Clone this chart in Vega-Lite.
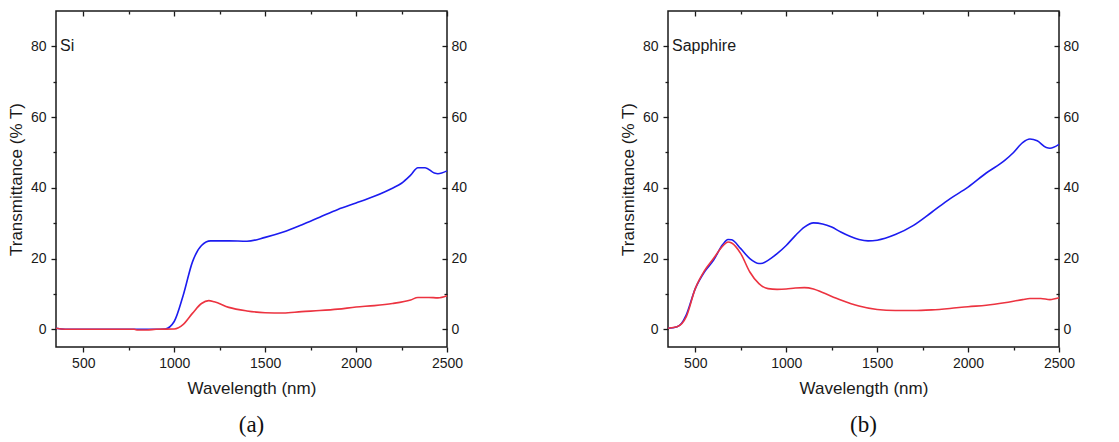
{
  "$schema": "https://vega.github.io/schema/vega-lite/v6.json",
  "background": "white",
  "padding": {"left": 6, "top": 9, "right": 5, "bottom": 5},
  "bounds": "flush",
  "spacing": 221,
  "config": {
    "view": {"stroke": "#1a1a1a", "strokeWidth": 1.5},
    "axis": {
      "domain": false, "grid": false,
      "tickColor": "#1a1a1a", "tickWidth": 1.3,
      "labelFont": "Liberation Sans", "labelFontSize": 14, "labelColor": "#1a1a1a",
      "titleFont": "Liberation Sans", "titleFontSize": 17, "titleFontWeight": "normal", "titleColor": "#1a1a1a"
    },
    "title": {"font": "Liberation Serif", "fontSize": 23, "fontWeight": "normal", "color": "#111", "orient": "bottom", "offset": 18}
  },
  "datasets": {
    "si": [
      {"s": "blue", "w": 350, "t": 0.3}, {"s": "blue", "w": 400, "t": 0}, {"s": "blue", "w": 780, "t": 0}, {"s": "blue", "w": 900, "t": 0}, {"s": "blue", "w": 950, "t": 0.1},
      {"s": "blue", "w": 1000, "t": 2.2}, {"s": "blue", "w": 1050, "t": 9.7}, {"s": "blue", "w": 1100, "t": 19}, {"s": "blue", "w": 1150, "t": 23.7},
      {"s": "blue", "w": 1200, "t": 25}, {"s": "blue", "w": 1300, "t": 25}, {"s": "blue", "w": 1400, "t": 24.9}, {"s": "blue", "w": 1500, "t": 26},
      {"s": "blue", "w": 1600, "t": 27.5}, {"s": "blue", "w": 1700, "t": 29.5}, {"s": "blue", "w": 1800, "t": 31.7}, {"s": "blue", "w": 1900, "t": 33.9},
      {"s": "blue", "w": 2000, "t": 35.7}, {"s": "blue", "w": 2100, "t": 37.6}, {"s": "blue", "w": 2200, "t": 39.9}, {"s": "blue", "w": 2250, "t": 41.3},
      {"s": "blue", "w": 2300, "t": 43.6}, {"s": "blue", "w": 2340, "t": 45.7}, {"s": "blue", "w": 2380, "t": 45.7}, {"s": "blue", "w": 2430, "t": 44.2},
      {"s": "blue", "w": 2450, "t": 44}, {"s": "blue", "w": 2500, "t": 44.8},
      {"s": "red", "w": 350, "t": 0.3}, {"s": "red", "w": 400, "t": 0}, {"s": "red", "w": 780, "t": 0}, {"s": "red", "w": 800, "t": -0.2}, {"s": "red", "w": 850, "t": -0.2},
      {"s": "red", "w": 900, "t": 0}, {"s": "red", "w": 1000, "t": 0.1}, {"s": "red", "w": 1050, "t": 1.4}, {"s": "red", "w": 1100, "t": 4.5},
      {"s": "red", "w": 1150, "t": 7.3}, {"s": "red", "w": 1190, "t": 8.1}, {"s": "red", "w": 1220, "t": 7.8}, {"s": "red", "w": 1300, "t": 6.2},
      {"s": "red", "w": 1400, "t": 5.2}, {"s": "red", "w": 1500, "t": 4.7}, {"s": "red", "w": 1600, "t": 4.6}, {"s": "red", "w": 1700, "t": 5.0},
      {"s": "red", "w": 1800, "t": 5.3}, {"s": "red", "w": 1900, "t": 5.7}, {"s": "red", "w": 2000, "t": 6.3}, {"s": "red", "w": 2100, "t": 6.7},
      {"s": "red", "w": 2200, "t": 7.3}, {"s": "red", "w": 2300, "t": 8.3}, {"s": "red", "w": 2340, "t": 9.0}, {"s": "red", "w": 2400, "t": 9.0},
      {"s": "red", "w": 2450, "t": 8.9}, {"s": "red", "w": 2500, "t": 9.5}
    ],
    "sap": [
      {"s": "blue", "w": 350, "t": 0.3}, {"s": "blue", "w": 400, "t": 0.75}, {"s": "blue", "w": 425, "t": 1.7}, {"s": "blue", "w": 450, "t": 4},
      {"s": "blue", "w": 500, "t": 11.5}, {"s": "blue", "w": 550, "t": 16.2}, {"s": "blue", "w": 600, "t": 19.5}, {"s": "blue", "w": 650, "t": 23.9},
      {"s": "blue", "w": 680, "t": 25.4}, {"s": "blue", "w": 700, "t": 25.3}, {"s": "blue", "w": 750, "t": 22.8}, {"s": "blue", "w": 800, "t": 20},
      {"s": "blue", "w": 850, "t": 18.6}, {"s": "blue", "w": 870, "t": 18.7}, {"s": "blue", "w": 900, "t": 19.5}, {"s": "blue", "w": 950, "t": 21.4},
      {"s": "blue", "w": 1000, "t": 23.7}, {"s": "blue", "w": 1050, "t": 26.5}, {"s": "blue", "w": 1100, "t": 28.9}, {"s": "blue", "w": 1150, "t": 30.1},
      {"s": "blue", "w": 1200, "t": 29.8}, {"s": "blue", "w": 1250, "t": 28.9}, {"s": "blue", "w": 1300, "t": 27.5}, {"s": "blue", "w": 1350, "t": 26.3},
      {"s": "blue", "w": 1400, "t": 25.4}, {"s": "blue", "w": 1450, "t": 25.0}, {"s": "blue", "w": 1500, "t": 25.2}, {"s": "blue", "w": 1600, "t": 26.8},
      {"s": "blue", "w": 1700, "t": 29.4}, {"s": "blue", "w": 1800, "t": 33.1}, {"s": "blue", "w": 1900, "t": 36.9}, {"s": "blue", "w": 2000, "t": 40.2},
      {"s": "blue", "w": 2100, "t": 44.2}, {"s": "blue", "w": 2200, "t": 47.7}, {"s": "blue", "w": 2250, "t": 50}, {"s": "blue", "w": 2300, "t": 52.8},
      {"s": "blue", "w": 2340, "t": 53.8}, {"s": "blue", "w": 2380, "t": 53.3}, {"s": "blue", "w": 2430, "t": 51.4}, {"s": "blue", "w": 2450, "t": 51.2},
      {"s": "blue", "w": 2500, "t": 52.3},
      {"s": "red", "w": 350, "t": 0.3}, {"s": "red", "w": 400, "t": 0.7}, {"s": "red", "w": 450, "t": 3.5}, {"s": "red", "w": 500, "t": 11.5},
      {"s": "red", "w": 550, "t": 16.5}, {"s": "red", "w": 600, "t": 20}, {"s": "red", "w": 650, "t": 23.5}, {"s": "red", "w": 680, "t": 24.7},
      {"s": "red", "w": 700, "t": 24.4}, {"s": "red", "w": 750, "t": 21.4}, {"s": "red", "w": 800, "t": 16.2}, {"s": "red", "w": 850, "t": 12.9},
      {"s": "red", "w": 900, "t": 11.5}, {"s": "red", "w": 950, "t": 11.3}, {"s": "red", "w": 1000, "t": 11.4}, {"s": "red", "w": 1050, "t": 11.7},
      {"s": "red", "w": 1100, "t": 11.8}, {"s": "red", "w": 1150, "t": 11.4}, {"s": "red", "w": 1200, "t": 10.4}, {"s": "red", "w": 1300, "t": 8.3},
      {"s": "red", "w": 1400, "t": 6.6}, {"s": "red", "w": 1500, "t": 5.6}, {"s": "red", "w": 1600, "t": 5.3}, {"s": "red", "w": 1700, "t": 5.3},
      {"s": "red", "w": 1800, "t": 5.5}, {"s": "red", "w": 1900, "t": 5.9}, {"s": "red", "w": 2000, "t": 6.4}, {"s": "red", "w": 2100, "t": 6.8},
      {"s": "red", "w": 2200, "t": 7.5}, {"s": "red", "w": 2300, "t": 8.4}, {"s": "red", "w": 2340, "t": 8.7}, {"s": "red", "w": 2400, "t": 8.7},
      {"s": "red", "w": 2450, "t": 8.4}, {"s": "red", "w": 2500, "t": 8.9}
    ]
  },
  "hconcat": [
    {
      "width": 391, "height": 336,
      "title": {"text": "(a)"},
      "layer": [
        {
          "data": {"name": "si"},
          "mark": {"type": "line", "interpolate": "monotone", "strokeWidth": 1.6},
          "encoding": {
            "x": {"field": "w", "type": "quantitative", "scale": {"domain": [350, 2500], "nice": false, "zero": false},
                  "axis": {"orient": "bottom", "title": "Wavelength (nm)", "values": [500, 750, 1000, 1250, 1500, 1750, 2000, 2250, 2500],
                           "labelExpr": "datum.value % 500 === 0 ? '' + datum.value : ''",
                           "tickSize": {"condition": {"test": "datum.value % 500 === 0", "value": 5}, "value": 3},
                           "labelPadding": 4, "titlePadding": 10, "labelFlush": false, "labelOverlap": false}},
            "y": {"field": "t", "type": "quantitative", "scale": {"domain": [-5, 90], "nice": false, "zero": false},
                  "axis": {"orient": "left", "title": "Transmittance (% T)", "values": [0, 10, 20, 30, 40, 50, 60, 70, 80],
                           "labelExpr": "datum.value % 20 === 0 ? '' + datum.value : ''",
                           "tickSize": {"condition": {"test": "datum.value % 20 === 0", "value": 5}, "value": 3},
                           "labelPadding": 5, "titlePadding": 5, "labelOverlap": false}},
            "color": {"field": "s", "type": "nominal", "scale": {"domain": ["blue", "red"], "range": ["#1c1cf0", "#ec3340"]}, "legend": null}
          }
        },
        {
          "data": {"values": [{"w": 350, "t": 80, "label": "Si"}]},
          "mark": {"type": "text", "align": "left", "baseline": "middle", "dx": 4, "font": "Liberation Sans", "fontSize": 16, "color": "#1a1a1a"},
          "encoding": {
            "x": {"field": "w", "type": "quantitative", "scale": {"domain": [350, 2500], "nice": false, "zero": false},
                  "axis": {"orient": "top", "title": null, "labels": false, "values": [500, 750, 1000, 1250, 1500, 1750, 2000, 2250, 2500],
                           "tickSize": {"condition": {"test": "datum.value % 500 === 0", "value": -5}, "value": -3}}},
            "y": {"field": "t", "type": "quantitative", "scale": {"domain": [-5, 90], "nice": false, "zero": false},
                  "axis": {"orient": "right", "title": null, "values": [0, 10, 20, 30, 40, 50, 60, 70, 80],
                           "labelExpr": "datum.value % 20 === 0 ? '' + datum.value : ''",
                           "tickSize": {"condition": {"test": "datum.value % 20 === 0", "value": -5}, "value": -3},
                           "labelPadding": 9, "labelOverlap": false}},
            "text": {"field": "label"}
          }
        }
      ],
      "resolve": {"axis": {"x": "independent", "y": "independent"}}
    },
    {
      "width": 391, "height": 336,
      "title": {"text": "(b)"},
      "layer": [
        {
          "data": {"name": "sap"},
          "mark": {"type": "line", "interpolate": "monotone", "strokeWidth": 1.6},
          "encoding": {
            "x": {"field": "w", "type": "quantitative", "scale": {"domain": [350, 2500], "nice": false, "zero": false},
                  "axis": {"orient": "bottom", "title": "Wavelength (nm)", "values": [500, 750, 1000, 1250, 1500, 1750, 2000, 2250, 2500],
                           "labelExpr": "datum.value % 500 === 0 ? '' + datum.value : ''",
                           "tickSize": {"condition": {"test": "datum.value % 500 === 0", "value": 5}, "value": 3},
                           "labelPadding": 4, "titlePadding": 10, "labelFlush": false, "labelOverlap": false}},
            "y": {"field": "t", "type": "quantitative", "scale": {"domain": [-5, 90], "nice": false, "zero": false},
                  "axis": {"orient": "left", "title": "Transmittance (% T)", "values": [0, 10, 20, 30, 40, 50, 60, 70, 80],
                           "labelExpr": "datum.value % 20 === 0 ? '' + datum.value : ''",
                           "tickSize": {"condition": {"test": "datum.value % 20 === 0", "value": 5}, "value": 3},
                           "labelPadding": 5, "titlePadding": 5, "labelOverlap": false}},
            "color": {"field": "s", "type": "nominal", "scale": {"domain": ["blue", "red"], "range": ["#1c1cf0", "#ec3340"]}, "legend": null}
          }
        },
        {
          "data": {"values": [{"w": 350, "t": 80, "label": "Sapphire"}]},
          "mark": {"type": "text", "align": "left", "baseline": "middle", "dx": 4, "font": "Liberation Sans", "fontSize": 16, "color": "#1a1a1a"},
          "encoding": {
            "x": {"field": "w", "type": "quantitative", "scale": {"domain": [350, 2500], "nice": false, "zero": false},
                  "axis": {"orient": "top", "title": null, "labels": false, "values": [500, 750, 1000, 1250, 1500, 1750, 2000, 2250, 2500],
                           "tickSize": {"condition": {"test": "datum.value % 500 === 0", "value": -5}, "value": -3}}},
            "y": {"field": "t", "type": "quantitative", "scale": {"domain": [-5, 90], "nice": false, "zero": false},
                  "axis": {"orient": "right", "title": null, "values": [0, 10, 20, 30, 40, 50, 60, 70, 80],
                           "labelExpr": "datum.value % 20 === 0 ? '' + datum.value : ''",
                           "tickSize": {"condition": {"test": "datum.value % 20 === 0", "value": -5}, "value": -3},
                           "labelPadding": 9, "labelOverlap": false}},
            "text": {"field": "label"}
          }
        }
      ],
      "resolve": {"axis": {"x": "independent", "y": "independent"}}
    }
  ]
}
